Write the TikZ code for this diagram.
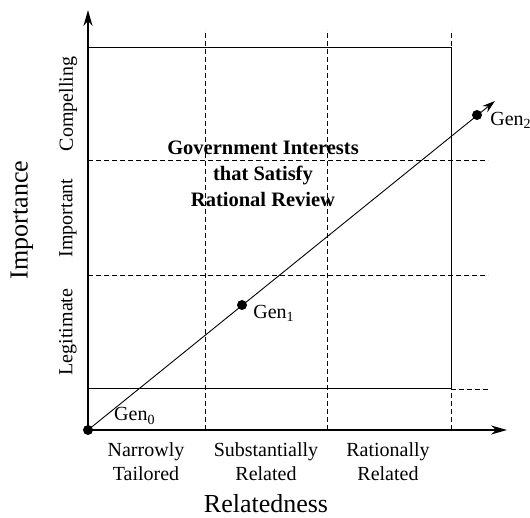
\documentclass[tikz,border=0pt]{standalone}
\usepackage{fontspec}
\setmainfont{Liberation Serif}
\usetikzlibrary{arrows.meta,positioning}
\tikzset{
  grid dash/.style={dash pattern=on 5pt off 3pt, line width=.9pt},
  gen dot/.style={circle, fill, inner sep=0pt, minimum size=10pt},
  lab/.style={font=\fontsize{20}{24}\selectfont, align=center, inner sep=0pt},
  axis title/.style={font=\fontsize{26}{30}\selectfont, inner sep=0pt},
}
\begin{document}
\begin{tikzpicture}[x=1pt,y=1pt]
\useasboundingbox (-88,-88) rectangle (442,430);
% dashed grid
\foreach \x in {117,239,363}
  \draw [grid dash] (\x,0) -- (\x,400);
\foreach \y in {155,270}
  \draw [grid dash] (0,\y) -- (400,\y);
\draw [grid dash] (363,41) -- (400,41);
% rational review box
\draw [line width=1pt] (0,382) -- (363,382) -- (363,41) -- (0,41);
% axes
\coordinate (O) at (0,0);
\coordinate (xend) at (419,0);
\coordinate (yend) at (0,420);
\draw [line width=1.8pt, -{Stealth[length=16pt,width=9pt]}] (O) -- (xend);
\draw [line width=1.8pt, -{Stealth[length=16pt,width=9pt]}] (O) -- (yend);
% generations
\node [gen dot] (g0) at (0,0) {};
\node [gen dot] (g1) at (154,125) {};
\node [gen dot] (g2) at (389,315) {};
\coordinate (tip) at (407,329);
\draw [line width=.9pt, -{Stealth[length=13pt,width=8pt]}] (g0.center) -- (tip);
\node [lab, anchor=west] (l0) at (26,14) {Gen\textsubscript{0}};
\node [lab, right=6pt of g1, yshift=-8pt] (l1) {Gen\textsubscript{1}};
\node [lab, right=8pt of g2, yshift=-5pt] (l2) {Gen\textsubscript{2}};
\node [lab, font=\fontsize{20.5}{26}\selectfont\bfseries] (rr) at (175,256)
  {Government Interests\\that Satisfy\\Rational Review};
% importance
\node [lab, rotate=90] (legit) at (-20,98) {Legitimate};
\node [lab, rotate=90] (impt) at (-20,212) {Important};
\node [lab, rotate=90] (compel) at (-20,326) {Compelling};
\node [axis title, rotate=90] (imptitle) at (-66,210) {Importance};
% relatedness
\node [lab, anchor=north] (narrow) at (58,-12) {Narrowly\\Tailored};
\node [lab, anchor=north] (subst) at (178,-12) {Substantially\\Related};
\node [lab, anchor=north] (ration) at (300,-12) {Rationally\\Related};
\node [axis title] (reltitle) at (178,-74) {Relatedness};
\end{tikzpicture}
\end{document}
